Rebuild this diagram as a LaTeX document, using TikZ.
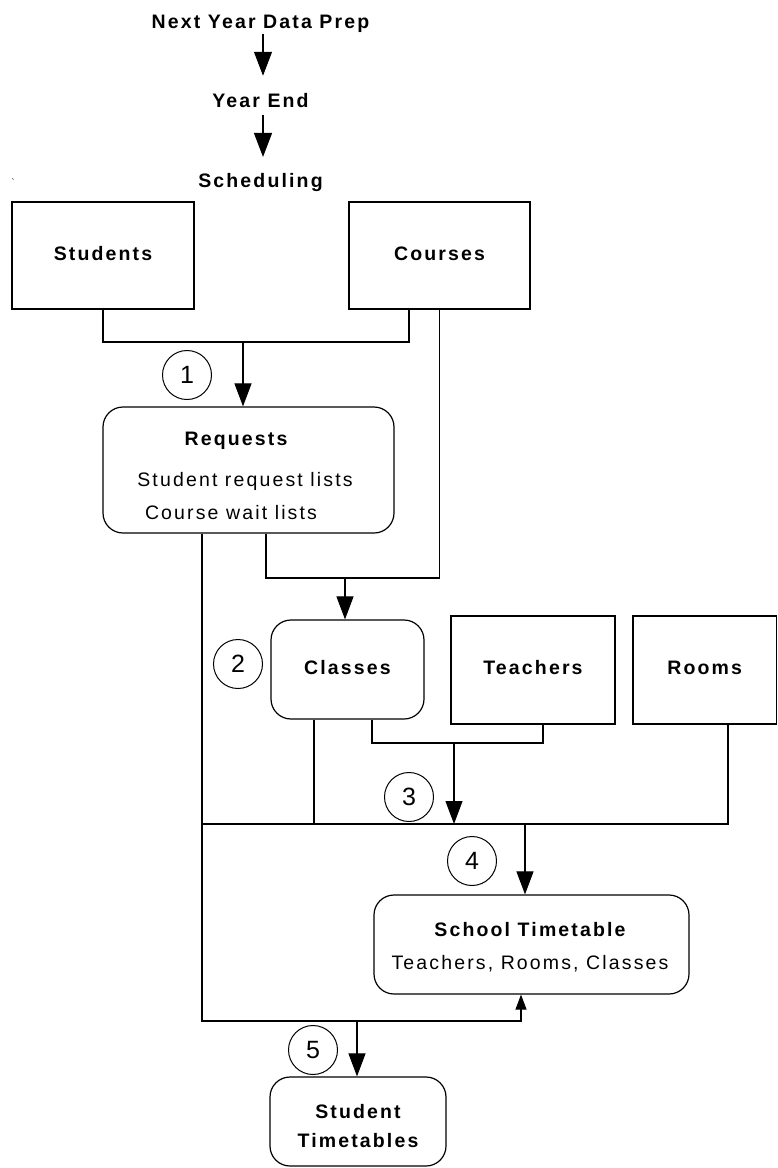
\documentclass[tikz,border=0pt]{standalone}
\usepackage{fontspec}
\setmainfont{Liberation Sans}[LetterSpace=11]
\usetikzlibrary{arrows.meta}

\tikzset{
  lbl/.style={font=\fontsize{19.5}{23}\selectfont, inner sep=0pt,
    text height=14pt, text depth=4.1pt},
  boldlbl/.style={lbl, font=\fontsize{19.5}{23}\selectfont\bfseries},
  databox/.style={draw, line width=1.2pt, boldlbl},
  procbox/.style={draw, line width=1.2pt, rounded corners=20pt},
  numcirc/.style={draw, circle, line width=1pt, minimum size=49pt,
    inner sep=0pt, font=\fontsize{25}{25}\selectfont},
  bigarr/.style={-{Triangle[length=24pt,width=18pt]}},
  arr/.style={-{Triangle[length=23pt,width=17pt]}},
  smallarr/.style={-{Triangle[length=15pt,width=11pt]}}
}

\begin{document}
\begin{tikzpicture}[x=1pt, y=-1pt, line width=1.1pt]
  \useasboundingbox (0,0) rectangle (778,1168);

  % Phases
  \node[boldlbl, anchor=base] (prep) at (260.5,28.3) {Next Year Data Prep};
  \node[boldlbl, anchor=base] (yearend) at (260.5,107.3) {Year End};
  \node[boldlbl, anchor=base] (sched) at (260.5,187) {Scheduling};
  \node[font=\small, inner sep=0pt] (tick) at (13,182) {\textasciigrave};
  \draw[bigarr, shorten <=1pt, shorten >=17pt]
    ([xshift=2.5pt]prep.south) -- ([xshift=2.5pt]yearend.north);
  \draw[bigarr, shorten <=3pt, shorten >=15.5pt]
    ([xshift=2.5pt]yearend.south) -- ([xshift=2.5pt]sched.north);

  % Data boxes
  \node[databox, minimum width=182pt, minimum height=107pt] (students) at (103,255.5) {Students};
  \node[databox, minimum width=181pt, minimum height=107pt] (courses) at (439.5,255.5) {Courses};
  \node[databox, minimum width=164pt, minimum height=108pt] (teachers) at (533,670) {Teachers};
  \node[databox, minimum width=143.5pt, minimum height=108pt] (rooms) at (704.75,670) {Rooms};

  % Process boxes
  \node[procbox, minimum width=291pt, minimum height=126pt] (requests) at (248.5,470) {};
  \node[boldlbl, anchor=base] (reqtitle) at (236,445.6) {Requests};
  \node[lbl, anchor=base] (reqlist1) at (245,486.7) {Student request lists};
  \node[lbl, anchor=base] (reqlist2) at (231,519) {Course wait lists};

  \node[procbox, boldlbl, minimum width=153pt, minimum height=99pt] (classes) at (347.5,669.5) {Classes};

  \node[procbox, minimum width=315pt, minimum height=99pt] (school) at (531.5,944.5) {};
  \node[boldlbl, anchor=base] (schtitle) at (530,936) {School Timetable};
  \node[lbl, anchor=base] (schlist) at (530,969.3) {Teachers, Rooms, Classes};

  \node[procbox, minimum width=176pt, minimum height=89pt] (studtt) at (358,1121.5) {};
  \node[boldlbl, anchor=base] (sttitle1) at (358,1118) {Student};
  \node[boldlbl, anchor=base] (sttitle2) at (358,1147) {Timetables};

  % Step numbers
  \foreach \n/\x/\y in {1/187/375, 2/238/664, 3/409/797, 4/472/861, 5/313/1050}
    \node[numcirc] (step\n) at (\x,\y) {\n};

  % Junctions
  \coordinate (j1) at (243,342);
  \coordinate (j2) at (345,578);
  \coordinate (j3) at (454,743);
  \coordinate (j4) at (525,824);
  \coordinate (j5) at (357,1021);
  \coordinate (busl) at (202,824);

  % Step 1: students + courses -> requests
  \draw (students.south) |- (j1) -| ([xshift=-30.5pt]courses.south);
  \draw[arr] (j1) -- (j1 |- requests.north);

  % Step 2: requests + courses -> classes
  \draw (courses.south) |- (j2) -| ([xshift=17.5pt]requests.south);
  \draw[arr] (j2) -- (j2 |- classes.north);

  % Step 3: classes + teachers
  \draw ([xshift=24.5pt]classes.south) |- (j3) -| ([xshift=10pt]teachers.south);
  \draw[arr] (j3) -- (j3 |- busl);

  % Step 4: everything -> school timetable
  \draw ([xshift=23.25pt]rooms.south) |- (busl);
  \draw ([xshift=-33.5pt]classes.south) coordinate (clfoot) -- (clfoot |- busl);
  \draw[arr] (j4) -- (j4 |- school.north);

  % Step 5: requests + school timetable -> student timetables
  \draw[smallarr] ([xshift=-46.5pt]requests.south) |- (j5) -| ([xshift=-10.5pt]school.south);
  \draw[arr] (j5) -- (j5 |- studtt.north);
\end{tikzpicture}
\end{document}
